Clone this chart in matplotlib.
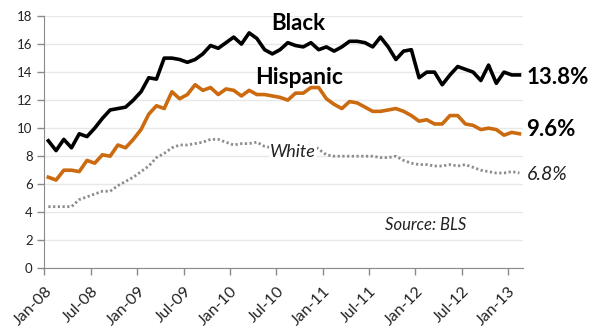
import matplotlib
matplotlib.use('Agg')
import matplotlib.pyplot as plt
import matplotlib.transforms as mtransforms
import numpy as np

# monthly unemployment rate, Jan-08 .. Feb-13 (BLS)
black = [9.1, 8.4, 9.2, 8.6, 9.6, 9.4, 10.0, 10.7, 11.3, 11.4, 11.5, 12.0,
         12.6, 13.6, 13.5, 15.0, 15.0, 14.9, 14.7, 14.9, 15.3, 15.9, 15.7, 16.1,
         16.5, 16.0, 16.8, 16.4, 15.6, 15.3, 15.6, 16.1, 15.9, 15.8, 16.1, 15.6,
         15.8, 15.5, 15.8, 16.2, 16.2, 16.1, 15.8, 16.5, 15.8, 14.9, 15.5, 15.6,
         13.6, 14.0, 14.0, 13.1, 13.8, 14.4, 14.2, 14.0, 13.4, 14.5, 13.2, 14.0,
         13.8, 13.8]
hispanic = [6.5, 6.3, 7.0, 7.0, 6.9, 7.7, 7.5, 8.1, 8.0, 8.8, 8.6, 9.2,
            9.9, 11.0, 11.6, 11.4, 12.6, 12.1, 12.4, 13.1, 12.7, 12.9, 12.4, 12.8,
            12.7, 12.3, 12.7, 12.4, 12.4, 12.3, 12.2, 12.0, 12.5, 12.5, 12.9, 12.9,
            12.1, 11.7, 11.4, 11.9, 11.8, 11.5, 11.2, 11.2, 11.3, 11.4, 11.2, 10.9,
            10.5, 10.6, 10.3, 10.3, 10.9, 10.9, 10.3, 10.2, 9.9, 10.0, 9.9, 9.5,
            9.7, 9.6]
white = [4.4, 4.4, 4.4, 4.4, 4.9, 5.1, 5.3, 5.5, 5.5, 5.9, 6.2, 6.5,
         6.9, 7.3, 7.9, 8.2, 8.6, 8.8, 8.8, 8.9, 9.0, 9.2, 9.2, 9.0,
         8.8, 8.9, 8.9, 9.0, 8.7, 8.6, 8.6, 8.7, 8.7, 8.6, 8.9, 8.5,
         8.1, 8.0, 8.0, 8.0, 8.0, 8.0, 8.0, 7.9, 7.9, 8.0, 7.7, 7.5,
         7.4, 7.4, 7.3, 7.3, 7.4, 7.3, 7.4, 7.2, 7.0, 6.9, 6.8, 6.8,
         6.9, 6.8]
tick_labels = ['Jan-08', 'Jul-08', 'Jan-09', 'Jul-09', 'Jan-10', 'Jul-10',
               'Jan-11', 'Jul-11', 'Jan-12', 'Jul-12', 'Jan-13']

plt.rcParams['font.family'] = ['Lato', 'DejaVu Sans']

fig = plt.figure(figsize=(5.9, 3.28), dpi=100)
ax = fig.add_axes([0.0754, 0.182, 0.8116, 0.769])

x = np.arange(len(black))
ax.plot(x, white, color='#8c8c8c', lw=2.0, ls=(0, (0.8, 0.9)), dash_capstyle='butt')
ax.plot(x, hispanic, color='#cc6a10', lw=2.6)
ax.plot(x, black, color='black', lw=2.6)

ax.set_xlim(-0.5, len(black) - 0.5)
ax.set_ylim(0, 18)
ax.set_yticks(range(0, 19, 2))
ax.set_xticks(np.arange(len(tick_labels)) * 6 - 0.5)
ax.set_xticklabels(tick_labels, rotation=45, ha='right', va='center',
                   rotation_mode='anchor')
ax.tick_params(axis='y', labelsize=9.5, labelcolor='#222222', length=5, width=1,
               color='#8a8a8a')
ax.tick_params(axis='x', labelsize=11.5, labelcolor='#222222', length=5, width=1,
               color='#8a8a8a', pad=10)
shift = mtransforms.ScaledTranslation(4 / 72, 0, fig.dpi_scale_trans)
for lbl in ax.get_xticklabels():
    lbl.set_transform(lbl.get_transform() + shift)
ax.grid(axis='y', color='#e8e8e8', lw=1)
ax.set_axisbelow(True)
for s in ['top', 'right']:
    ax.spines[s].set_visible(False)
for s in ['left', 'bottom']:
    ax.spines[s].set_color('#8a8a8a')

ax.text(32.3, 17.5, 'Black', fontsize=16, fontweight='bold', ha='center', va='center')
ax.text(32.5, 13.65, 'Hispanic', fontsize=16.5, fontweight='bold', ha='center', va='center')
ax.text(28.7, 8.3, 'White', fontsize=13, style='italic', ha='left', va='center',
        color='#222222', bbox=dict(facecolor='white', edgecolor='none', pad=0.5))
ax.text(43.6, 3.1, 'Source: BLS', fontsize=12, style='italic', ha='left', va='center',
        color='#222222')
ax.text(61.9, 13.6, '13.8%', fontsize=16, fontweight='bold', ha='left', va='center', clip_on=False)
ax.text(61.9, 9.9, '9.6%', fontsize=16, fontweight='bold', ha='left', va='center', clip_on=False)
ax.text(61.9, 6.7, '6.8%', fontsize=14, style='italic', ha='left', va='center',
        color='#222222', clip_on=False)

fig.savefig('out.png', dpi=100)
